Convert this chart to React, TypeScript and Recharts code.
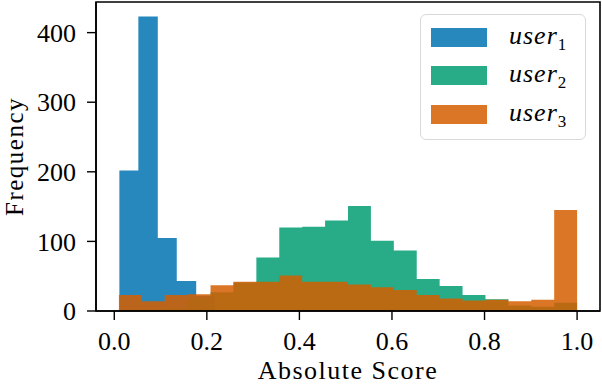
import {
  Area,
  ComposedChart,
  Label,
  ReferenceArea,
  XAxis,
  YAxis,
} from "recharts";

// shared bin edges for user2 / user3 (20 bins)
const binEdges = [
  0.01, 0.0595, 0.109, 0.1585, 0.208, 0.2575, 0.307, 0.3565, 0.406, 0.4555,
  0.505, 0.5545, 0.604, 0.6535, 0.703, 0.7525, 0.802, 0.8515, 0.901, 0.9505, 1.0,
];
// user1 has its own, narrower bins
const user1Edges = [0.011, 0.052, 0.094, 0.135, 0.177, 0.218];

const user1Counts = [202, 423, 105, 43, 22];
const user2Counts = [0, 0, 4, 18, 27, 41, 77, 120, 121, 130, 151, 101, 87, 46, 36, 23, 17, 8, 6, 12];
const user3Counts = [23, 14, 23, 24, 37, 42, 42, 51, 42, 42, 38, 34, 30, 23, 18, 15, 16, 14, 16, 145];

const xTicks = [0, 0.2, 0.4, 0.6, 0.8, 1.0];
const yTicks = [0, 100, 200, 300, 400];
const xDomain: [number, number] = [-0.0395, 1.0495];
const yDomain: [number, number] = [0, 444];

const FONT = "'Liberation Serif', 'DejaVu Serif', serif";

const toSteps = (edges: number[], counts: number[]) =>
  counts
    .map((c, i) => ({ x: edges[i], y: c }))
    .concat({ x: edges[counts.length], y: counts[counts.length - 1] });

const series = [
  { key: "user1", sub: "1", color: "#0173B2", data: toSteps(user1Edges, user1Counts) },
  { key: "user2", sub: "2", color: "#029E73", data: toSteps(binEdges, user2Counts) },
  { key: "user3", sub: "3", color: "#D55E00", data: toSteps(binEdges, user3Counts) },
];

function LegendBox() {
  return (
    <div
      style={{
        position: "absolute",
        left: 420,
        top: 14,
        width: 164,
        height: 124,
        border: "1.5px solid #d9d9d9",
        borderRadius: 6,
        background: "rgba(255,255,255,0.8)",
        fontFamily: FONT,
        fontSize: 26,
        color: "#000",
      }}
    >
      {series.map((s, i) => (
        <div
          key={s.key}
          style={{
            position: "absolute",
            left: 10,
            top: 12 + i * 38.5,
            height: 20,
            display: "flex",
            alignItems: "center",
          }}
        >
          <div style={{ width: 56, height: 19, background: s.color, opacity: 0.85 }} />
          <span
            style={{
              marginLeft: 22,
              fontStyle: "italic",
              lineHeight: "20px",
              whiteSpace: "nowrap",
              letterSpacing: 1,
            }}
          >
            user
            <span style={{ fontStyle: "normal", fontSize: 17, position: "relative", top: 6 }}>
              {s.sub}
            </span>
          </span>
        </div>
      ))}
    </div>
  );
}

export default function App() {
  return (
    <div style={{ position: "absolute", left: 0, top: 0, width: 602, height: 388, background: "#fff" }}>
      <ComposedChart width={602} height={388} margin={{ top: 2, right: 2, bottom: 0, left: 0 }}>
        <XAxis
          type="number"
          dataKey="x"
          domain={xDomain}
          ticks={xTicks}
          allowDataOverflow
          tickFormatter={(v: number) => v.toFixed(1)}
          height={77}
          tickSize={9}
          tickMargin={12}
          stroke="#000"
          axisLine={{ stroke: "#000", strokeWidth: 1.6 }}
          tickLine={{ stroke: "#000", strokeWidth: 1.4 }}
          tick={{ fill: "#000", fontSize: 26, fontFamily: FONT }}
        >
          <Label
            content={({ viewBox }: any) => (
              <text
                x={viewBox.x + viewBox.width / 2}
                y={379}
                textAnchor="middle"
                fontFamily={FONT}
                fontSize={26}
                letterSpacing={1.5}
                fill="#000"
              >
                Absolute Score
              </text>
            )}
          />
        </XAxis>
        <YAxis
          type="number"
          domain={yDomain}
          ticks={yTicks}
          allowDataOverflow
          width={96}
          tickSize={9}
          tickMargin={11}
          stroke="#000"
          axisLine={{ stroke: "#000", strokeWidth: 1.6 }}
          tickLine={{ stroke: "#000", strokeWidth: 1.4 }}
          tick={{ fill: "#000", fontSize: 26, fontFamily: FONT }}
        >
          <Label
            content={({ viewBox }: any) => (
              <text
                x={0}
                y={0}
                transform={`translate(23, ${viewBox.y + viewBox.height / 2}) rotate(-90)`}
                textAnchor="middle"
                fontFamily={FONT}
                fontSize={25}
                letterSpacing={1.5}
                fill="#000"
              >
                Frequency
              </text>
            )}
          />
        </YAxis>
        {series.map((s) => (
          <Area
            key={s.key}
            data={s.data}
            dataKey="y"
            name={s.key}
            type="stepAfter"
            fill={s.color}
            fillOpacity={0.85}
            stroke="none"
            isAnimationActive={false}
          />
        ))}
        <ReferenceArea
          x1={xDomain[0]}
          x2={xDomain[1]}
          y1={yDomain[0]}
          y2={yDomain[1]}
          fill="none"
          stroke="#000"
          strokeWidth={1.6}
          ifOverflow="visible"
        />
      </ComposedChart>
      <LegendBox />
    </div>
  );
}
